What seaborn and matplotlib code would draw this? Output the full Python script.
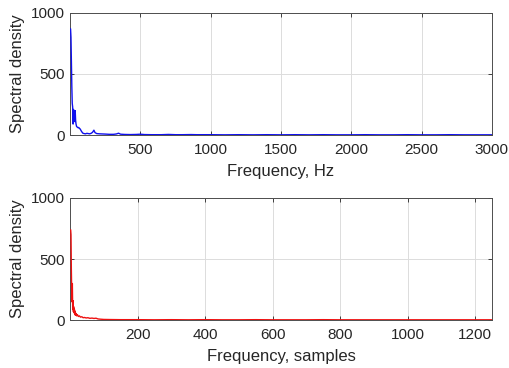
import matplotlib
matplotlib.use("Agg")
import matplotlib.pyplot as plt
import seaborn as sns
import pandas as pd

# --- data ---
freq_hz = [4, 7, 10, 13, 16, 19, 22, 25, 28, 31, 34, 37, 40, 43, 47, 52, 57, 62, 67, 72,
           77, 82, 87, 92, 100, 110, 120, 130, 140, 150, 160, 170, 178, 190, 210, 230,
           250, 280, 310, 330, 345, 360, 390, 430, 470, 500, 530, 580, 650, 700, 750,
           800, 860, 900, 1000, 1100, 1200, 1300, 1400, 1500, 1600, 1700, 1800, 1900,
           2000, 2100, 2200, 2300, 2400, 2500, 2600, 2700, 2800, 2900, 3000]
psd_hz = [870, 800, 600, 400, 260, 230, 90, 210, 150, 180, 110, 200, 120, 90, 70, 65,
          60, 62, 55, 50, 40, 30, 22, 15, 12, 10, 14, 12, 10, 14, 22, 40, 20, 12, 10, 9,
          8, 6, 6, 9, 15, 7, 5, 4, 5, 7, 4, 3, 3, 5, 3, 3, 4, 3, 3, 2, 3, 2, 3, 2, 3, 2,
          3, 2, 2, 3, 2, 2, 3, 2, 2, 3, 2, 2, 2]

freq_samples = [2, 3, 4, 5, 6, 7, 8, 9, 10, 11, 12, 13, 14, 15, 16, 18, 20, 22, 25, 28,
                31, 35, 39, 43, 48, 53, 59, 65, 71, 77, 83, 90, 100, 120, 150, 200, 250,
                300, 350, 400, 450, 500, 550, 600, 650, 700, 750, 800, 850, 900, 950,
                1000, 1050, 1100, 1150, 1200, 1250]
psd_samples = [740, 700, 420, 250, 150, 300, 90, 160, 70, 110, 60, 90, 50, 75, 40, 55,
               35, 45, 30, 35, 25, 28, 20, 22, 18, 20, 15, 17, 14, 16, 10, 8, 6, 5, 4, 4,
               3, 4, 3, 4, 3, 3, 4, 3, 3, 3, 4, 3, 3, 3, 3, 3, 3, 3, 3, 3, 3]

x_ticks_hz = [500, 1000, 1500, 2000, 2500, 3000]
x_ticks_samples = [200, 400, 600, 800, 1000, 1200]
y_ticks = [0, 500, 1000]

df_hz = pd.DataFrame({"f": freq_hz, "p": psd_hz})
df_s = pd.DataFrame({"f": freq_samples, "p": psd_samples})

sns.set_theme(style="ticks")
plt.rcParams["font.family"] = ["Liberation Sans", "DejaVu Sans"]

fig = plt.figure(figsize=(5.09, 3.68), dpi=100)
ax1 = fig.add_axes([0.1375, 0.633, 0.829, 0.332])
ax2 = fig.add_axes([0.1375, 0.130, 0.829, 0.332])

text_col = "#262626"
for ax, df, col, xl, xt, lab in [
    (ax1, df_hz, "#1010ee", (0, 3000), x_ticks_hz, "Frequency, Hz"),
    (ax2, df_s, "#ee1010", (0, 1250), x_ticks_samples, "Frequency, samples"),
]:
    sns.lineplot(data=df, x="f", y="p", ax=ax, color=col, linewidth=1.0, zorder=3)
    ax.set_xlim(*xl)
    ax.set_ylim(0, 1000)
    ax.set_xticks(xt)
    ax.set_yticks(y_ticks)
    ax.grid(True, color="#dcdcdc", linewidth=0.7)
    ax.set_axisbelow(True)
    ax.set_xlabel(lab, fontsize=12, color=text_col, labelpad=5)
    ax.set_ylabel("Spectral density", fontsize=12, color=text_col, labelpad=4)
    ax.tick_params(direction="in", length=3, width=0.6, top=True, right=True,
                   labelsize=11, colors=text_col)
    ax.tick_params(axis="x", pad=6)
    ax.tick_params(axis="y", pad=4)
    for s in ax.spines.values():
        s.set_color("#4d4d4d")
        s.set_linewidth(0.7)

fig.savefig("out.png", dpi=100)
